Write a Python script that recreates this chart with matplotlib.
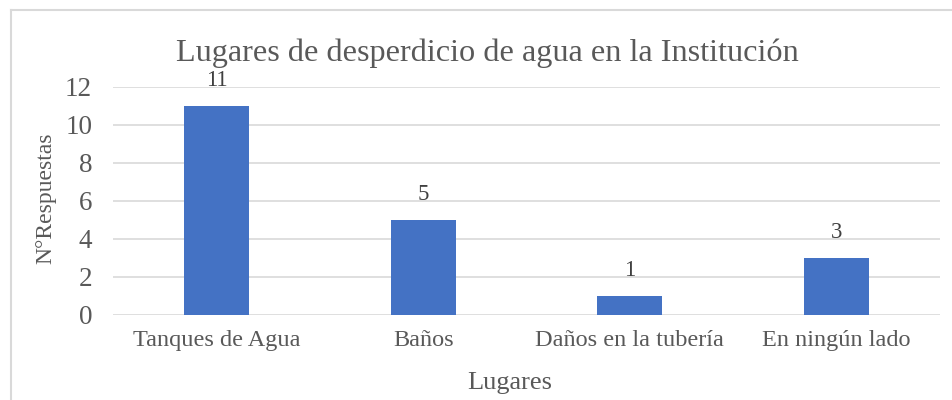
import matplotlib
matplotlib.use("Agg")
import matplotlib.pyplot as plt
from matplotlib.lines import Line2D

categories = ["Tanques de Agua", "Baños", "Daños en la tubería", "En ningún lado"]
values = [11, 5, 1, 3]
yticks = [0, 2, 4, 6, 8, 10, 12]
title = "Lugares de desperdicio de agua en la Institución"
xlabel = "Lugares"
ylabel = "N°Respuestas"

plt.rcParams['font.family'] = ['Liberation Serif', 'DejaVu Serif']
W, H = 952, 400
fig = plt.figure(figsize=(W / 100, H / 100), dpi=100)
ax = fig.add_axes([113 / W, 1 - 315 / H, (940 - 113) / W, (315 - 87) / H])

x = list(range(len(categories)))
bars = ax.bar(x, values, width=0.315, color="#4472C4", zorder=3)
ax.set_xlim(-0.5, len(categories) - 0.5)
ax.set_ylim(0, 12)
ax.set_yticks(yticks)
ax.set_yticklabels([str(t) for t in yticks])
ax.set_xticks(x)
ax.set_xticklabels(categories)
ax.grid(axis="y", color="#D9D9D9", linewidth=1.2, zorder=0)
for s in ax.spines.values():
    s.set_visible(False)
ax.tick_params(axis="both", length=0, colors="#595959")
ax.tick_params(axis="y", labelsize=19.5, pad=15)
ax.tick_params(axis="x", labelsize=17.5, pad=11)

for xi, v in zip(x, values):
    ax.annotate(str(v), (xi, v), xytext=(0, 11), textcoords="offset points",
                ha="center", va="bottom", fontsize=16.5, color="#404040")

fig.text(487 / W, 1 - 61 / H, title, ha="center", va="baseline", fontsize=23.2, color="#595959")
fig.text(510 / W, 1 - 389 / H, xlabel, ha="center", va="baseline", fontsize=19, color="#595959")
fig.text(46 / W, 1 - 198 / H, ylabel, ha="center", va="center", rotation=90, fontsize=17, color="#595959")

fig.add_artist(Line2D([11 / W, 11 / W], [0, 1 - 10 / H], transform=fig.transFigure, color="#D9D9D9", linewidth=1.5))
fig.add_artist(Line2D([11 / W, 1], [1 - 10 / H, 1 - 10 / H], transform=fig.transFigure, color="#D9D9D9", linewidth=1.5))

fig.savefig("out.png", dpi=100)
